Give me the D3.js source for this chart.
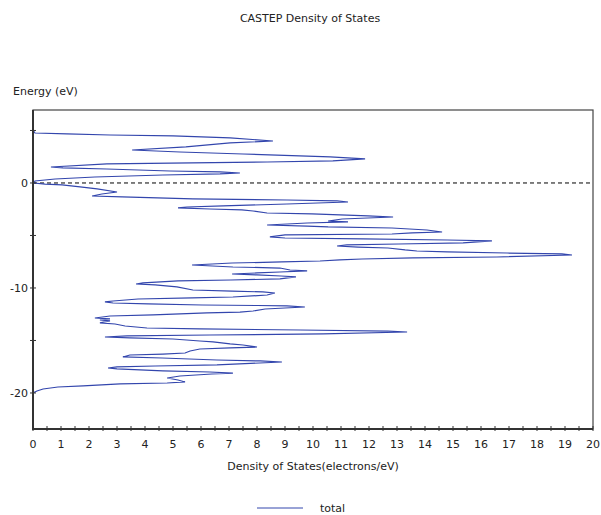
<!DOCTYPE html>
<html>
<head>
<meta charset="utf-8">
<script src="https://cdn.jsdelivr.net/npm/d3@7"></script>
<style>
  body { margin: 0; background: #fff; }
  text { font-family: "DejaVu Sans", sans-serif; fill: #222; }
</style>
</head>
<body>
<div id="grafico"></div>
<script>
// energia (eV) y densidad de estados, de arriba abajo
const energia = [6.29, 5.05, 4.76, 4.67, 4.57, 4.48, 4.29, 4.0, 3.81, 3.43, 3.14, 2.95, 2.76, 2.48, 2.29,
  2.10, 2.0, 1.81, 1.52, 1.43, 1.33, 1.14, 1.05, 0.95, 0.86, 0.76, 0.57, 0.38, 0.19, 0,
  -0.10, -0.19, -0.38, -0.57, -0.86, -1.05, -1.24, -1.33, -1.52, -1.62, -1.71, -1.81, -2.0, -2.19, -2.29,
  -2.38, -2.48, -2.57, -2.67, -2.86, -2.95, -3.14, -3.24, -3.43, -3.62, -3.71, -3.81, -4.0, -4.10, -4.19,
  -4.29, -4.48, -4.67, -4.76, -4.86, -4.95, -5.14, -5.24, -5.33, -5.43, -5.52, -5.71, -5.81, -5.90, -6.0,
  -6.10, -6.19, -6.38, -6.48, -6.57, -6.67, -6.76, -6.86, -7.05, -7.14, -7.24, -7.33, -7.43, -7.52, -7.62,
  -7.81, -8.0, -8.10, -8.29, -8.38, -8.48, -8.57, -8.67, -8.76, -8.86, -8.95, -9.14, -9.24, -9.33, -9.52,
  -9.62, -9.71, -9.90, -10.19, -10.29, -10.38, -10.48, -10.67, -10.86, -10.95, -11.05, -11.24, -11.33, -11.43, -11.52,
  -11.62, -11.67, -11.71, -11.81, -12.0, -12.19, -12.29, -12.38, -12.57, -12.67, -12.86, -12.95, -13.05, -13.14, -13.33,
  -13.43, -13.62, -13.81, -13.90, -14.0, -14.10, -14.19, -14.38, -14.48, -14.57, -14.67, -14.76, -14.86, -15.05, -15.14,
  -15.33, -15.43, -15.62, -15.71, -15.81, -16.0, -16.19, -16.29, -16.38, -16.57, -16.67, -16.86, -16.95, -17.05, -17.33,
  -17.43, -17.52, -17.62, -17.71, -17.90, -18.0, -18.10, -18.19, -18.38, -18.57, -18.76, -18.95, -19.05, -19.14, -19.33,
  -19.43, -19.62, -19.81, -20.0, -21.14];
const densidad = [0, 0, 0.07, 1.21, 2.75, 5.0, 7.04, 8.57, 7.04, 5.46, 3.54, 5.25, 7.5, 10.61, 11.86,
  10.71, 8.36, 2.64, 0.64, 1.07, 2.64, 4.89, 6.68, 7.39, 6.68, 4.64, 2.21, 0.79, 0.07, 0.04,
  0.43, 1.04, 1.68, 2.29, 3.0, 2.46, 2.11, 3.18, 5.71, 9.07, 10.86, 11.25, 9.07, 6.79, 5.5,
  5.18, 6.32, 7.46, 7.86, 8.36, 9.96, 11.96, 12.86, 11.04, 10.54, 11.25, 9.79, 8.36, 9.79, 10.54,
  12.82, 14.07, 14.61, 13.54, 12.82, 9.0, 8.46, 9.0, 11.79, 14.79, 16.39, 15.36, 13.04, 11.21, 10.86,
  11.61, 12.68, 13.29, 13.71, 14.79, 16.93, 18.89, 19.25, 16.57, 13.57, 11.75, 10.96, 10.25, 8.89, 7.11,
  5.68, 7.14, 8.82, 9.18, 9.79, 8.82, 8.0, 7.11, 8.0, 8.86, 9.39, 8.82, 7.07, 5.18, 3.93,
  3.68, 4.36, 5.14, 5.71, 7.11, 8.21, 8.64, 8.36, 7.14, 5.68, 3.75, 2.86, 2.57, 2.86, 4.11,
  6.04, 8.0, 9.07, 9.71, 8.29, 7.86, 7.39, 6.21, 4.29, 2.75, 2.21, 2.75, 2.39, 2.75, 2.39,
  2.93, 3.29, 4.07, 5.96, 9.54, 12.68, 13.36, 10.36, 6.32, 3.36, 2.57, 3.46, 5.0, 5.96, 6.43,
  7.04, 7.5, 8.0, 7.04, 5.96, 5.61, 5.43, 4.64, 3.46, 3.21, 4.61, 6.57, 8.11, 8.89, 6.57,
  4.36, 3.0, 2.68, 3.0, 4.64, 6.32, 7.14, 6.39, 5.25, 4.79, 5.18, 5.43, 4.79, 3.11, 1.79,
  0.89, 0.36, 0.14, 0, 0];

const ticksX = d3.range(0, 21, 1);
const ticksXMenores = d3.range(0, 20.5, 0.5);
const ticksY = [5, 0, -5, -10, -15, -20];
const etiquetasY = [0, -10, -20];
const serie = "total";

const ancho = 601, alto = 515;
const izq = 33, der = 593, arriba = 110, abajo = 429;
const azul = "#3346ad";

const x = d3.scaleLinear().domain([0, 20]).range([izq, der]);
const y = d3.scaleLinear().domain([-23.43, 6.95]).range([abajo, arriba]);

const $svg = d3.select("#grafico").append("svg")
  .attr("width", ancho).attr("height", alto);

$svg.append("text")
  .attr("x", 310).attr("y", 22)
  .attr("text-anchor", "middle")
  .attr("font-size", 11)
  .text("CASTEP Density of States");

$svg.append("text")
  .attr("x", 13).attr("y", 95)
  .attr("font-size", 11)
  .text("Energy (eV)");

// marco fino arriba y derecha
$svg.append("rect")
  .attr("x", izq).attr("y", arriba)
  .attr("width", der - izq).attr("height", abajo - arriba)
  .attr("fill", "none").attr("stroke", "#444").attr("stroke-width", 1.2);

// nivel de Fermi
$svg.append("line")
  .attr("x1", izq).attr("x2", der)
  .attr("y1", y(0)).attr("y2", y(0))
  .attr("stroke", "#000").attr("stroke-dasharray", "4,3");

const datos = energia.map((e, i) => ({ e, d: densidad[i] }));
const linea = d3.line().x(p => x(p.d)).y(p => y(p.e));

$svg.append("path")
  .datum(datos)
  .attr("d", linea)
  .attr("fill", "none")
  .attr("stroke", azul)
  .attr("stroke-width", 1.2);

// ejes gruesos izquierda y abajo
$svg.append("path")
  .attr("d", `M${izq},${arriba}V${abajo}H${der}`)
  .attr("fill", "none").attr("stroke", "#333").attr("stroke-width", 2);

// ticks eje x
$svg.append("g").selectAll("line")
  .data(ticksXMenores)
  .join("line")
  .attr("x1", d => x(d)).attr("x2", d => x(d))
  .attr("y1", abajo - 3).attr("y2", abajo + 2)
  .attr("stroke", "#333");

$svg.append("g").selectAll("text")
  .data(ticksX)
  .join("text")
  .attr("x", d => x(d)).attr("y", abajo + 19)
  .attr("text-anchor", "middle")
  .attr("font-size", 11)
  .text(d => d);

// ticks eje y
$svg.append("g").selectAll("line")
  .data(ticksY)
  .join("line")
  .attr("x1", izq - 3).attr("x2", izq + 3)
  .attr("y1", d => y(d)).attr("y2", d => y(d))
  .attr("stroke", "#333");

$svg.append("g").selectAll("text")
  .data(etiquetasY)
  .join("text")
  .attr("x", izq - 5).attr("y", d => y(d) + 4)
  .attr("text-anchor", "end")
  .attr("font-size", 11)
  .text(d => d);

$svg.append("text")
  .attr("x", 313).attr("y", 470)
  .attr("text-anchor", "middle")
  .attr("font-size", 11)
  .text("Density of States(electrons/eV)");

// leyenda
$svg.append("line")
  .attr("x1", 257).attr("x2", 303)
  .attr("y1", 508).attr("y2", 508)
  .attr("stroke", azul);
$svg.append("text")
  .attr("x", 320).attr("y", 512)
  .attr("font-size", 11)
  .text(serie);
</script>
</body>
</html>
